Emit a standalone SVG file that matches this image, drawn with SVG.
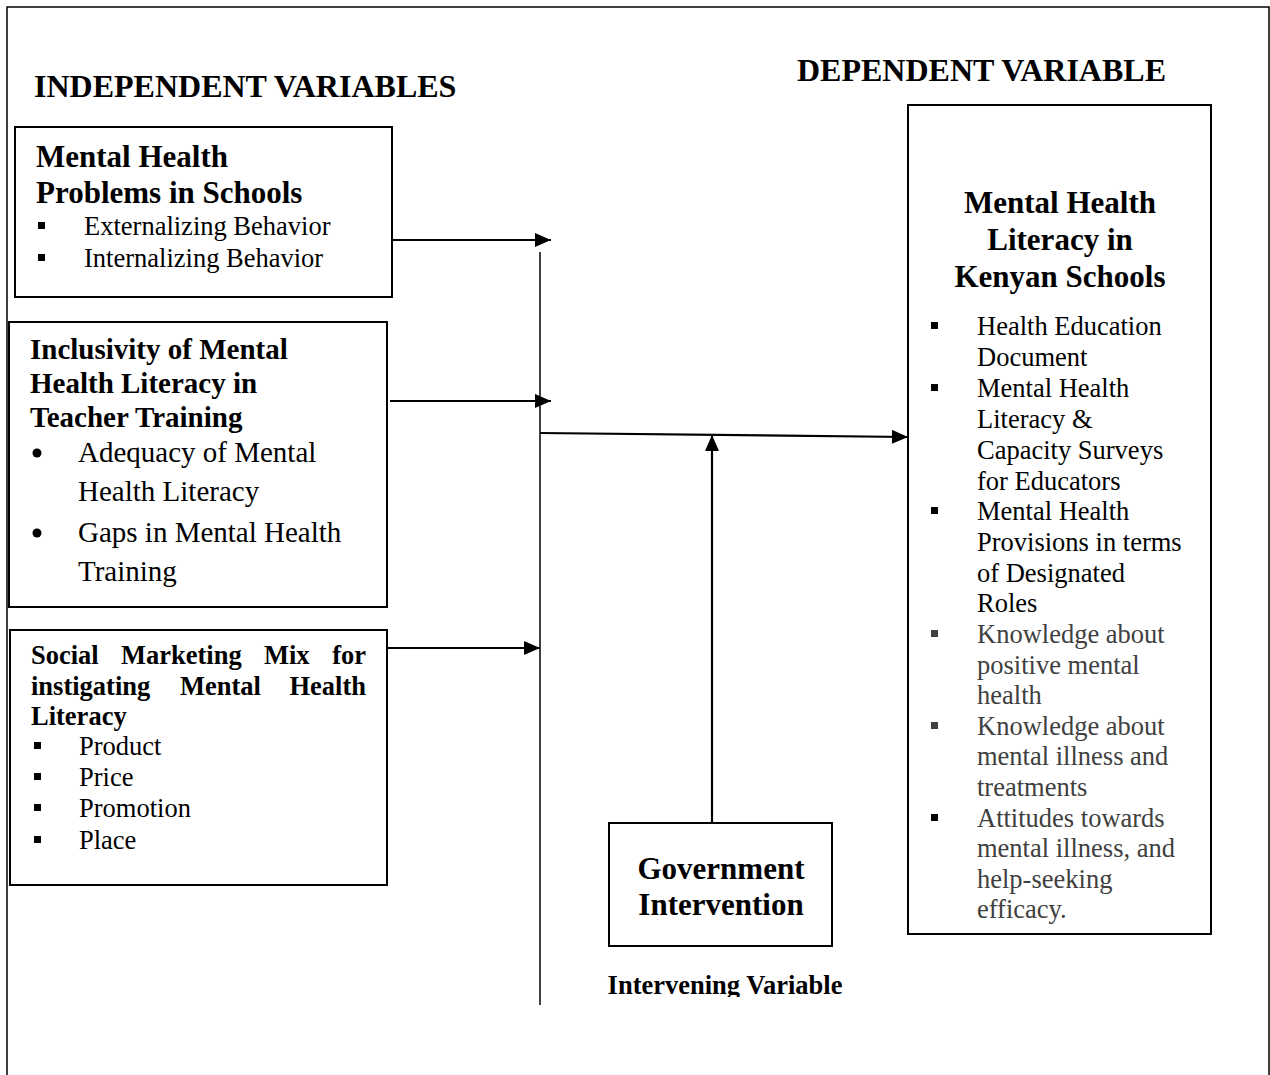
<svg xmlns="http://www.w3.org/2000/svg" width="1270" height="1075" viewBox="0 0 1270 1075">
  <style>
    .frame { fill: none; stroke: #000; stroke-width: 1.5; }
    .box { fill: #fff; stroke: #000; stroke-width: 2; }
    .t { font-family: "Liberation Serif", "Times New Roman", serif; fill: #000; }
    .b { font-weight: bold; }
    .head { font-size: 32px; }
    .ttl { font-size: 31px; }
    .ttl2 { font-size: 29px; }
    .itm { font-size: 26.5px; }
    .itm2 { font-size: 29px; }
    .grey { fill: #404040; }
    .wire { fill: none; stroke: #000; stroke-width: 2.2; }
    .thin { fill: none; stroke: #000; stroke-width: 1.5; }
    .sq { fill: #000; }
    .sqg { fill: #404040; }
  </style>
  <defs>
    <marker id="arrow" viewBox="0 0 16 14" refX="16" refY="7" markerWidth="16" markerHeight="14" markerUnits="userSpaceOnUse" orient="auto">
      <path d="M0,0 L16,7 L0,14 Z" fill="#000"/>
    </marker>
    <clipPath id="cutoff">
      <rect x="0" y="0" width="1270" height="997"/>
    </clipPath>
  </defs>

  <rect width="1270" height="1075" fill="#fff"/>
  <!-- outer frame, open at the bottom -->
  <path class="frame" d="M7,1080 V7 H1269 V1080"/>

  <text class="t b head" x="34" y="97">INDEPENDENT VARIABLES</text>
  <text class="t b head" x="797" y="81">DEPENDENT VARIABLE</text>

  <!-- connectors -->
  <g id="connectors">
    <line class="thin" x1="540" y1="252" x2="540" y2="1005"/>
    <line class="wire" x1="392" y1="240" x2="551" y2="240" marker-end="url(#arrow)"/>
    <line class="wire" x1="390" y1="401" x2="551" y2="401" marker-end="url(#arrow)"/>
    <line class="wire" x1="387" y1="648" x2="540" y2="648" marker-end="url(#arrow)"/>
    <line class="wire" x1="540" y1="433" x2="908" y2="437" marker-end="url(#arrow)"/>
    <line class="wire" x1="712" y1="823" x2="712" y2="435" marker-end="url(#arrow)"/>
  </g>

  <g id="problems">
    <rect class="box" x="15" y="127" width="377" height="170"/>
    <text class="t b ttl" x="36" y="167">Mental Health</text>
    <text class="t b ttl" x="36" y="203">Problems in Schools</text>
    <rect class="sq" x="38" y="222" width="7" height="7"/>
    <text class="t itm" x="84" y="235">Externalizing Behavior</text>
    <rect class="sq" x="38" y="254" width="7" height="7"/>
    <text class="t itm" x="84" y="267">Internalizing Behavior</text>
  </g>

  <g id="inclusivity">
    <rect class="box" x="9" y="322" width="378" height="285"/>
    <text class="t b ttl2" x="30" y="359">Inclusivity of Mental</text>
    <text class="t b ttl2" x="30" y="393">Health Literacy in</text>
    <text class="t b ttl2" x="30" y="427">Teacher Training</text>
    <circle cx="37" cy="453" r="4.5" fill="#000"/>
    <text class="t itm2" x="78" y="462">Adequacy of Mental</text>
    <text class="t itm2" x="78" y="501">Health Literacy</text>
    <circle cx="37" cy="533" r="4.5" fill="#000"/>
    <text class="t itm2" x="78" y="542">Gaps in Mental Health</text>
    <text class="t itm2" x="78" y="581">Training</text>
  </g>

  <g id="marketing">
    <rect class="box" x="10" y="630" width="377" height="255"/>
    <text class="t b itm" x="31" y="664">Social</text>
    <text class="t b itm" x="121" y="664">Marketing</text>
    <text class="t b itm" x="264" y="664">Mix</text>
    <text class="t b itm" x="366" y="664" text-anchor="end">for</text>
    <text class="t b itm" x="31" y="695">instigating</text>
    <text class="t b itm" x="180" y="695">Mental</text>
    <text class="t b itm" x="366" y="695" text-anchor="end">Health</text>
    <text class="t b itm" x="31" y="725">Literacy</text>
    <rect class="sq" x="34" y="742" width="7" height="7"/>
    <text class="t itm" x="79" y="755">Product</text>
    <rect class="sq" x="34" y="773" width="7" height="7"/>
    <text class="t itm" x="79" y="786">Price</text>
    <rect class="sq" x="34" y="804" width="7" height="7"/>
    <text class="t itm" x="79" y="817">Promotion</text>
    <rect class="sq" x="34" y="836" width="7" height="7"/>
    <text class="t itm" x="79" y="849">Place</text>
  </g>

  <g id="government">
    <rect class="box" x="609" y="823" width="223" height="123"/>
    <text class="t b ttl" x="721" y="879" text-anchor="middle">Government</text>
    <text class="t b ttl" x="721" y="915" text-anchor="middle">Intervention</text>
  </g>
  <text class="t b itm" x="725" y="994" text-anchor="middle" clip-path="url(#cutoff)">Intervening Variable</text>

  <g id="literacy">
    <rect class="box" x="908" y="105" width="303" height="829"/>
    <text class="t b ttl" x="1060" y="213" text-anchor="middle">Mental Health</text>
    <text class="t b ttl" x="1060" y="250" text-anchor="middle">Literacy in</text>
    <text class="t b ttl" x="1060" y="287" text-anchor="middle">Kenyan Schools</text>
    <g class="t itm">
      <rect class="sq" x="931" y="322" width="7" height="7"/>
      <text x="977" y="335">Health Education</text>
      <text x="977" y="366">Document</text>
      <rect class="sq" x="931" y="384" width="7" height="7"/>
      <text x="977" y="397">Mental Health</text>
      <text x="977" y="428">Literacy &amp;</text>
      <text x="977" y="459">Capacity Surveys</text>
      <text x="977" y="490">for Educators</text>
      <rect class="sq" x="931" y="507" width="7" height="7"/>
      <text x="977" y="520">Mental Health</text>
      <text x="977" y="551">Provisions in terms</text>
      <text x="977" y="582">of Designated</text>
      <text x="977" y="612">Roles</text>
      <rect class="sqg" x="931" y="630" width="7" height="7"/>
      <text class="grey" x="977" y="643">Knowledge about</text>
      <text class="grey" x="977" y="674">positive mental</text>
      <text class="grey" x="977" y="704">health</text>
      <rect class="sqg" x="931" y="722" width="7" height="7"/>
      <text class="grey" x="977" y="735">Knowledge about</text>
      <text class="grey" x="977" y="765">mental illness and</text>
      <text class="grey" x="977" y="796">treatments</text>
      <rect class="sq" x="931" y="814" width="7" height="7"/>
      <text class="grey" x="977" y="827">Attitudes towards</text>
      <text class="grey" x="977" y="857">mental illness, and</text>
      <text class="grey" x="977" y="888">help-seeking</text>
      <text class="grey" x="977" y="918">efficacy.</text>
    </g>
  </g>
</svg>
